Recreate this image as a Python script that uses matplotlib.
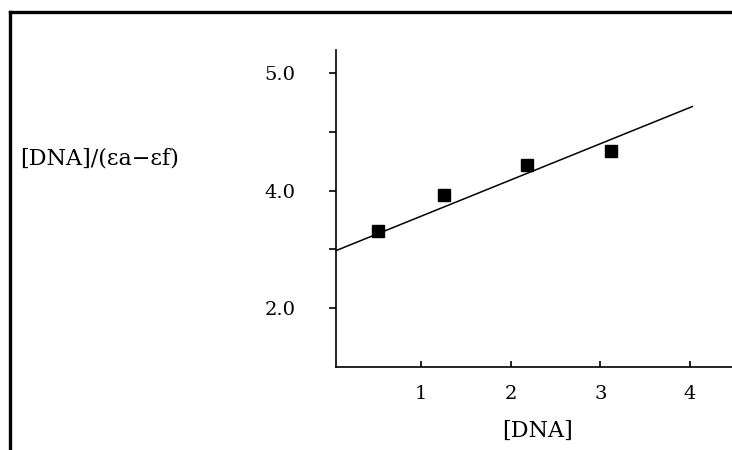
import numpy as np
import matplotlib
matplotlib.use('Agg')
import matplotlib.pyplot as plt
from matplotlib.lines import Line2D

# data
dna = [0.516, 1.252, 2.185, 3.116]
ratio = [3.655, 3.966, 4.22, 4.34]
fit_slope = 0.308
fit_intercept = 3.474
fit_x = [0.04, 4.027]

x_ticks = [1, 2, 3, 4]
y_ticks = [3.0, 3.5, 4.0, 4.5, 5.0]
y_tick_labels = ['2.0', '', '4.0', '', '5.0']

plt.rcParams['font.family'] = ['DejaVu Serif']

fig = plt.figure(figsize=(7.32, 4.5), dpi=100)
ax = fig.add_axes([336/732, 83/450, 396/732, 317/450])

fx = np.array(fit_x)
ax.plot(fx, fit_intercept + fit_slope * fx, color='black', lw=1.1)
ax.plot(dna, ratio, linestyle='none', marker='s', ms=8.5, color='black')

ax.set_xlim(0.05, 4.47)
ax.set_ylim(2.5, 5.195)

for s in ['top', 'right']:
    ax.spines[s].set_visible(False)
for s in ['left', 'bottom']:
    ax.spines[s].set_linewidth(1.2)

ax.set_xticks(x_ticks)
ax.set_xticklabels([str(v) for v in x_ticks], fontsize=14)
ax.set_yticks(y_ticks)
ax.set_yticklabels(y_tick_labels, fontsize=14)
ax.tick_params(axis='x', direction='in', length=4, width=1.2, pad=13)
ax.tick_params(axis='y', direction='out', length=5, width=1.2, pad=24)

fig.text(20/732, 1 - 158/450, '[DNA]/(\u03b5a\u2212\u03b5f)', fontsize=16,
         ha='left', va='center')
fig.text(537/732, 1 - 431/450, '[DNA]', fontsize=16, ha='center', va='center')

# frame round the figure (left and top edges only visible)
fig.add_artist(Line2D([10/732, 10/732], [0, 1 - 12/450], transform=fig.transFigure,
                      color='black', lw=2.4))
fig.add_artist(Line2D([10/732, 1], [1 - 12/450, 1 - 12/450], transform=fig.transFigure,
                      color='black', lw=2.4))

fig.savefig('out.png', dpi=100)
